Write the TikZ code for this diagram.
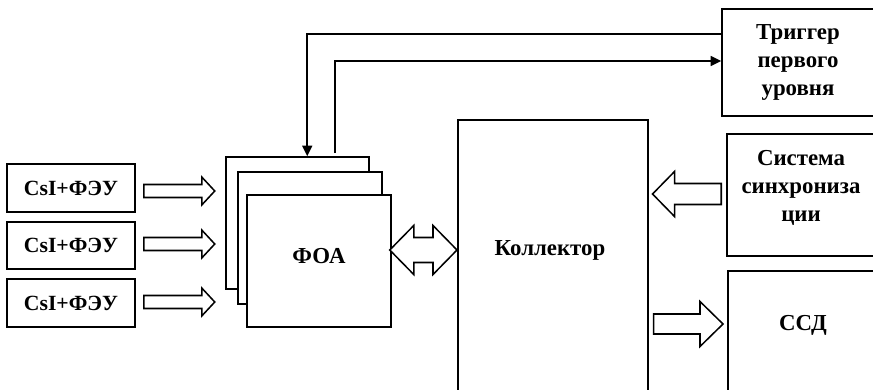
\documentclass[tikz,border=0pt]{standalone}
\usepackage{fontspec}
\setmainfont{Liberation Serif}
\usepackage{tikz}
\usetikzlibrary{positioning,arrows.meta,calc}

\newcommand{\pix}{0.03cm}
% hollow block arrow: tail, tip, shaft half, head half, head offset back from tip
\newcommand{\fatarrow}[5]{%
  \draw[fill=white] ($(#1)+(0,#3)$) -- ($(#2)+(#5,#3)$) -- ($(#2)+(#5,#4)$) -- (#2)
    -- ($(#2)+(#5,-#4)$) -- ($(#2)+(#5,-#3)$) -- ($(#1)+(0,-#3)$) -- cycle;}

\begin{document}
\begin{tikzpicture}[x=0.03cm, y=-0.03cm, line width=1.3pt,
    main/.style = {draw, rectangle, fill=white, inner sep=0pt},
    txt/.style = {font=\bfseries\fontsize{19.5}{24}\selectfont, align=center},
    det/.style = {main, txt, font=\bfseries\fontsize{18.5}{24}\selectfont, minimum width=128*\pix}]
    \useasboundingbox (0,0) rectangle (873,389);
    \clip (0,0) rectangle (873,389);

    % detectors
    \node[det, minimum height=48*\pix] (csi1) at (71,188) {CsI+ФЭУ};
    \node[det, minimum height=47*\pix] (csi2) at (71,245.5) {CsI+ФЭУ};
    \node[det, minimum height=48*\pix] (csi3) at (71,303) {CsI+ФЭУ};

    % FOA stack
    \node[main, minimum width=143*\pix, minimum height=132*\pix] (foa3) at (297.5,223) {};
    \node[main, minimum width=144*\pix, minimum height=132*\pix] (foa2) at (310,238) {};
    \node[main, minimum width=144*\pix, minimum height=132*\pix] (foa) at (319,261) {};
    \node[txt] (foalbl) at (319,256) {ФОА};

    % collector and right column
    \node[main, minimum width=190*\pix, minimum height=300*\pix, anchor=north west] (coll) at (457,119) {};
    \node[txt] (colllbl) at (550,250) {Коллектор};
    \node[main, txt, minimum width=152*\pix, minimum height=107*\pix] (trig) at (798,62.5) {Триггер\\первого\\уровня};
    \node[main, minimum width=147*\pix, minimum height=122*\pix] (sync) at (800.5,195) {};
    \node[txt] (synclbl) at (801,188) {Система\\синхрониза\\ции};
    \node[main, minimum width=147*\pix, minimum height=150*\pix, anchor=north west] (ssd) at (727,270) {};
    \node[txt] (ssdlbl) at (803,325) {ССД};

    % block arrows
    \coordinate (t1) at ($(csi1.east)+(8,3)$);
    \coordinate (h1) at ($(t1)+(71,0)$);
    \coordinate (t2) at ($(csi2.east)+(8,-1.5)$);
    \coordinate (h2) at ($(t2)+(71,0)$);
    \coordinate (t3) at ($(csi3.east)+(8,-1)$);
    \coordinate (h3) at ($(t3)+(71,0)$);
    \fatarrow{t1}{h1}{6.5}{14}{-13}
    \fatarrow{t2}{h2}{6.5}{14}{-13}
    \fatarrow{t3}{h3}{6.5}{14}{-13}

    \coordinate (bl) at ($(foa.east |- 0,250)+(-2,0)$);
    \coordinate (br) at (coll.west |- bl);
    \draw[fill=white] (bl) -- ($(bl)+(24,-24.5)$) -- ($(bl)+(24,-12.5)$) -- ($(br)+(-24,-12.5)$)
        -- ($(br)+(-24,-24.5)$) -- (br) -- ($(br)+(-24,24.5)$) -- ($(br)+(-24,12.5)$)
        -- ($(bl)+(24,12.5)$) -- ($(bl)+(24,24.5)$) -- cycle;

    \coordinate (ts) at ($(sync.west |- 0,194)+(-5,0)$);
    \coordinate (hs) at ($(coll.east |- ts)+(4,0)$);
    \fatarrow{ts}{hs}{10.5}{22.5}{22}
    \coordinate (tc) at ($(coll.east |- 0,324)+(5,0)$);
    \coordinate (hc) at ($(ssd.west |- tc)+(-4,0)$);
    \fatarrow{tc}{hc}{10}{22.5}{-23}

    % trigger lines
    \draw[-{Triangle[length=9pt,width=8.5pt]}] (trig.west |- 0,34) -| ($(foa3.north west)+(82,0)$);
    \draw[-{Triangle[length=9pt,width=8.5pt]}] ($(foa3.north west)+(110,-3)$) |- (trig.west |- 0,61);
\end{tikzpicture}
\end{document}
